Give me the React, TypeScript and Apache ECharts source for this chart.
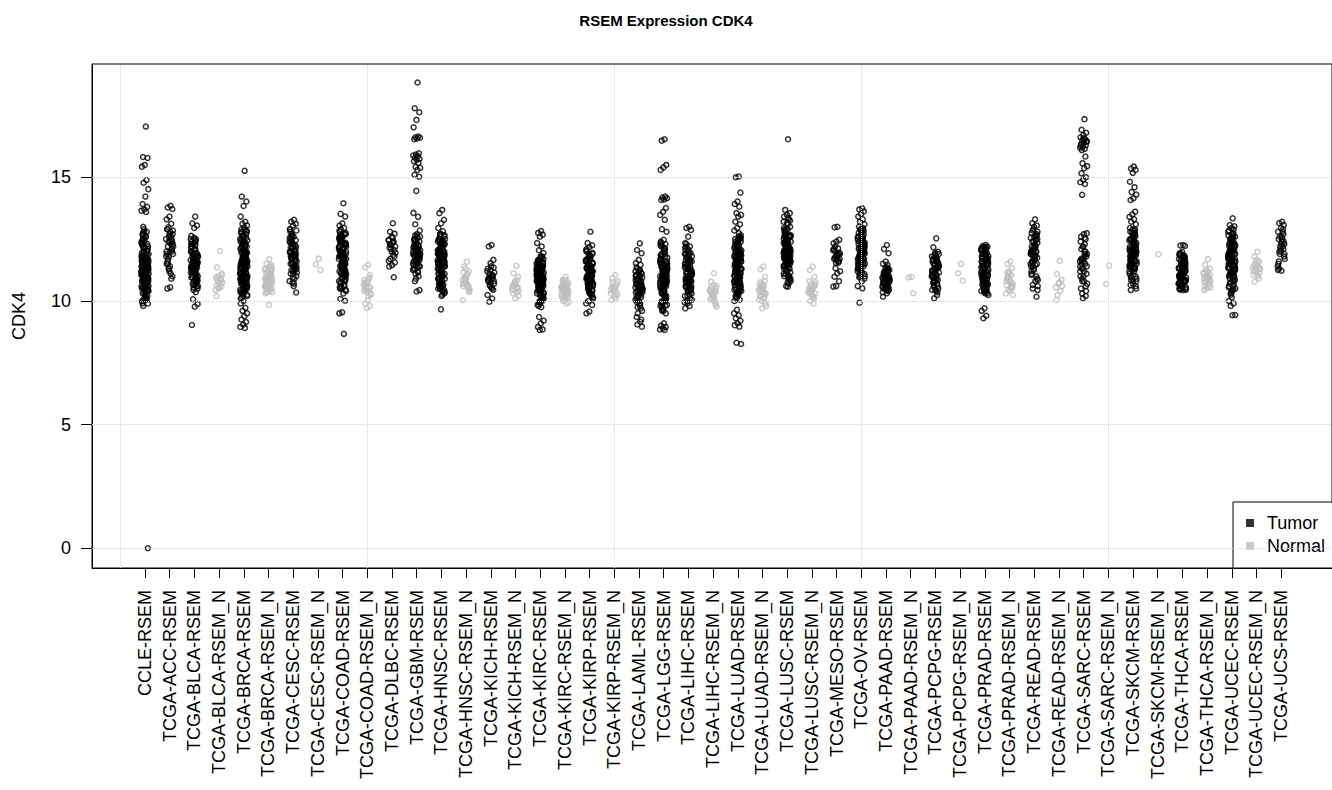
import React, { useEffect, useRef } from "react";
import * as echarts from "echarts";

const categories = [
  "CCLE-RSEM", "TCGA-ACC-RSEM", "TCGA-BLCA-RSEM", "TCGA-BLCA-RSEM_N", "TCGA-BRCA-RSEM", "TCGA-BRCA-RSEM_N",
  "TCGA-CESC-RSEM", "TCGA-CESC-RSEM_N", "TCGA-COAD-RSEM", "TCGA-COAD-RSEM_N", "TCGA-DLBC-RSEM", "TCGA-GBM-RSEM",
  "TCGA-HNSC-RSEM", "TCGA-HNSC-RSEM_N", "TCGA-KICH-RSEM", "TCGA-KICH-RSEM_N", "TCGA-KIRC-RSEM", "TCGA-KIRC-RSEM_N",
  "TCGA-KIRP-RSEM", "TCGA-KIRP-RSEM_N", "TCGA-LAML-RSEM", "TCGA-LGG-RSEM", "TCGA-LIHC-RSEM", "TCGA-LIHC-RSEM_N",
  "TCGA-LUAD-RSEM", "TCGA-LUAD-RSEM_N", "TCGA-LUSC-RSEM", "TCGA-LUSC-RSEM_N", "TCGA-MESO-RSEM", "TCGA-OV-RSEM",
  "TCGA-PAAD-RSEM", "TCGA-PAAD-RSEM_N", "TCGA-PCPG-RSEM", "TCGA-PCPG-RSEM_N", "TCGA-PRAD-RSEM", "TCGA-PRAD-RSEM_N",
  "TCGA-READ-RSEM", "TCGA-READ-RSEM_N", "TCGA-SARC-RSEM", "TCGA-SARC-RSEM_N", "TCGA-SKCM-RSEM", "TCGA-SKCM-RSEM_N",
  "TCGA-THCA-RSEM", "TCGA-THCA-RSEM_N", "TCGA-UCEC-RSEM", "TCGA-UCEC-RSEM_N", "TCGA-UCS-RSEM",
];

const ccle = [17.05, 15.82, 15.78, 15.5, 15.43, 14.89, 14.78, 14.52, 14.22, 13.92, 13.81, 13.7, 13.65, 13.6, 13.0, 0.0,
  11.2, 10.8, 11.6, 12.1, 10.4, 11.9, 11.0, 11.4, 10.6, 12.4, 11.3, 10.9, 11.7, 10.2, 11.5, 12.0, 10.7, 11.1, 12.6, 11.8,
  10.5, 11.3, 10.0, 11.6, 12.2, 10.9, 11.4, 10.3, 11.0, 12.8, 11.2, 10.6, 11.7, 9.9, 11.5, 12.3, 10.8, 11.1, 11.9, 10.4,
  12.5, 11.3, 10.7, 11.6, 10.1, 12.0, 11.4, 10.9, 12.7, 11.0, 10.5, 11.8, 11.2, 9.8, 12.1, 11.5, 10.8, 11.3, 12.9, 10.6,
  11.7, 11.0, 10.2, 12.4, 11.4, 10.9, 11.1, 12.2, 10.3, 11.6, 11.9, 10.7, 11.2, 12.6, 10.0, 11.5, 11.8, 10.5, 11.3, 12.0,
  10.8, 11.4, 9.9, 12.3, 11.1, 10.6, 11.7, 12.5, 10.4, 11.0, 11.3, 12.8, 10.1, 11.6, 11.2, 10.9];
const ccleMore = [11.35, 10.85, 11.65, 11.05, 12.15, 10.45, 11.55, 11.25, 10.95, 11.75, 12.35, 10.65, 11.15, 11.45, 10.25,
  11.85, 12.05, 10.75, 11.3, 11.6, 10.55, 11.0, 12.55, 11.4, 10.15, 11.7, 11.2, 10.9, 12.25, 11.5, 10.35, 11.1, 11.8,
  12.65, 10.7, 11.35, 11.95, 10.05, 11.45, 11.25, 10.85, 12.45, 11.65, 10.6, 11.05, 11.55, 12.75, 10.95, 11.15, 11.75];
const acc = [13.85, 13.78, 13.72, 13.41, 13.3, 13.12, 12.98, 12.85, 12.4, 12.9, 12.1, 12.6, 11.8, 12.3, 11.5, 12.7, 12.0,
  11.9, 12.5, 11.3, 12.2, 12.8, 11.6, 12.4, 11.2, 12.0, 12.6, 11.7, 12.3, 11.4, 12.9, 12.1, 11.8, 12.5, 11.1, 12.2, 11.0,
  12.7, 11.5, 10.9, 12.4, 11.9, 10.55, 10.5, 12.0, 11.3];
const blca = [13.41, 13.14, 13.05, 12.95, 12.63, 12.5, 11.4, 11.8, 11.1, 12.2, 10.9, 11.6, 12.0, 11.3, 10.7, 11.9, 11.5,
  12.4, 11.0, 11.7, 10.6, 12.1, 11.2, 11.5, 10.8, 12.3, 11.4, 11.9, 10.5, 11.6, 12.0, 11.1, 11.3, 12.5, 10.9, 11.8, 11.5,
  11.2, 12.2, 10.7, 11.7, 11.0, 12.1, 11.4, 10.6, 11.9, 11.3, 12.4, 11.6, 10.8, 11.1, 12.0, 11.5, 10.45, 11.8, 11.2, 12.3,
  10.9, 11.6, 11.4, 10.35, 10.07, 9.88, 9.77, 9.03];
const blcaMore = [11.45, 11.85, 11.15, 12.25, 10.95, 11.65, 12.05, 11.35, 10.75, 11.95, 11.55, 12.45, 11.05, 11.75, 10.65,
  12.15, 11.25, 11.55, 10.85, 12.35, 11.45, 11.95, 10.55, 11.65, 12.05, 11.15, 11.35, 12.55, 10.95, 11.85];
const blcaN = [12.02, 11.36, 11.12, 11.0, 10.95, 10.88, 10.8, 10.75, 10.7, 10.62, 10.58, 10.5, 10.45, 10.72, 10.9, 11.05,
  10.55, 10.2, 10.85];
const brca = [15.26, 14.22, 14.02, 13.84, 13.41, 13.2, 13.12, 13.05, 12.98, 12.9, 11.3, 11.8, 10.9, 12.2, 11.5, 10.6, 12.6,
  11.1, 11.9, 10.4, 11.6, 12.4, 11.0, 10.8, 11.7, 12.1, 11.3, 10.3, 12.8, 11.4, 10.7, 11.9, 11.2, 12.5, 10.5, 11.6, 11.0,
  12.0, 10.9, 11.5, 12.3, 10.2, 11.8, 11.1, 12.7, 10.6, 11.4, 11.7, 10.8, 12.2, 11.3, 10.4, 11.9, 12.6, 11.0, 11.5, 10.7,
  12.0, 11.2, 10.1, 11.6, 12.4, 10.9, 11.8, 11.4, 10.5, 12.1, 11.1, 12.9, 10.3, 11.7, 11.3, 10.8, 12.3, 11.5, 10.6, 11.0,
  12.5, 11.9, 10.2, 11.2, 11.6, 12.0, 10.7, 11.4, 12.8, 10.9, 11.8, 11.1, 10.4, 12.2, 11.5, 10.0, 9.9, 9.72, 9.6, 9.5,
  9.38, 9.25, 9.15, 9.05, 8.95, 8.91];
const brcaMore = [11.35, 10.95, 11.85, 12.15, 10.55, 11.65, 12.45, 11.05, 10.85, 11.45, 12.05, 10.35, 11.25, 12.65, 11.55,
  10.75, 11.95, 11.15, 12.35, 10.45, 11.75, 11.35, 12.85, 10.65, 11.5, 12.25, 11.0, 10.25, 11.9, 11.6, 12.55, 10.8, 11.3,
  12.0, 11.7, 10.5, 11.2, 12.75, 11.8, 10.9, 11.4, 12.2, 10.15, 11.1, 11.65, 12.4, 10.7, 11.55, 11.95, 11.25];
const brcaN = [11.69, 11.5, 11.2, 10.9, 10.6, 11.0, 10.8, 11.3, 10.5, 10.7, 11.1, 10.4, 10.9, 11.4, 10.6, 10.8, 11.0, 10.3,
  10.7, 11.2, 10.9, 10.5, 11.1, 10.8, 10.6, 11.3, 10.4, 10.7, 11.0, 10.9, 10.5, 11.2, 10.8, 10.6, 11.4, 10.35, 10.7, 11.0,
  10.9, 10.55, 11.15, 10.75, 9.84];
const brcaNMore = [10.85, 11.05, 10.65, 11.25, 10.45, 10.95, 11.35, 10.75, 10.55, 11.15, 10.85, 10.35, 11.0, 10.7, 11.45,
  10.9, 10.6, 11.1, 10.8, 10.5];
const cesc = [13.28, 13.2, 13.12, 13.05, 12.9, 11.8, 12.3, 11.4, 12.6, 11.1, 12.0, 11.7, 12.4, 10.9, 11.9, 12.2, 11.5,
  12.8, 11.3, 12.1, 11.6, 10.7, 12.5, 11.8, 11.2, 12.0, 11.9, 12.7, 11.0, 12.3, 11.5, 11.7, 12.2, 10.8, 11.4, 12.6, 11.9,
  11.1, 12.0, 11.6, 12.4, 11.3, 10.6, 11.8, 12.1, 11.5, 12.9, 11.2, 11.7, 10.34];
const cescMore = [11.85, 12.35, 11.45, 12.65, 11.15, 12.05, 11.75, 12.45, 10.95, 11.95, 12.25, 11.55, 12.85, 11.35, 12.15,
  11.65, 10.75, 12.55, 11.85, 11.25];
const cescN = [11.71, 11.48, 11.25];
const coad = [13.95, 13.52, 13.41, 13.14, 13.05, 12.95, 11.8, 12.3, 11.2, 12.6, 11.5, 10.9, 12.1, 11.7, 12.4, 11.0, 11.9,
  12.8, 10.6, 11.4, 12.2, 11.6, 12.0, 10.8, 11.3, 12.5, 11.8, 11.1, 12.7, 11.9, 10.5, 12.3, 11.5, 11.7, 12.1, 10.7, 11.2,
  12.6, 11.8, 11.4, 12.0, 10.4, 11.6, 12.4, 11.0, 11.9, 12.2, 11.3, 12.9, 10.9, 11.7, 12.0, 11.5, 12.5, 11.1, 10.3, 11.8,
  12.3, 11.6, 11.2, 12.7, 10.6, 11.9, 12.1, 11.4, 11.7, 12.4, 10.8, 11.0, 12.6, 11.5, 11.8, 12.2, 11.3, 10.5, 12.0, 11.9,
  10.08, 10.01, 9.54, 9.5, 8.67];
const coadMore = [11.85, 12.35, 11.25, 12.65, 11.55, 10.95, 12.15, 11.75, 12.45, 11.05, 11.95, 12.85, 10.65, 11.45, 12.25,
  11.65, 12.05, 10.85, 11.35, 12.55, 11.85, 11.15, 12.75, 11.95, 10.55, 12.3, 11.5, 11.7, 12.1, 10.75, 11.25, 12.6, 11.8,
  11.4, 12.0, 10.45, 11.6, 12.4, 11.05, 11.9];
const coadN = [11.46, 11.36, 11.05, 10.7, 10.4, 10.9, 10.6, 10.3, 10.8, 10.5, 10.95, 10.45, 10.65, 10.2, 10.75, 10.55,
  10.35, 10.85, 10.5, 10.6, 10.25, 10.04, 9.9, 9.8, 9.72, 10.7, 10.4];
const dlbc = [13.14, 12.8, 12.72, 12.6, 12.47, 12.4, 12.3, 12.2, 12.35, 12.15, 12.06, 12.25, 12.45, 11.86, 11.7, 11.55,
  11.45, 11.39, 10.96, 12.1, 11.95, 12.55, 12.3, 11.8, 12.0, 11.62, 12.38];
const gbm = [18.83, 17.79, 17.63, 17.32, 17.02, 16.65, 16.62, 16.6, 16.57, 16.54, 15.97, 15.92, 15.88, 15.85, 15.8, 15.75,
  15.7, 15.65, 15.58, 15.42, 15.38, 15.3, 15.1, 15.02, 14.45, 13.56, 13.4, 13.1, 12.85,
  12.7, 12.5, 11.8, 12.2, 11.5, 12.0, 11.3, 12.4, 11.9, 11.6, 12.1, 11.1, 12.6, 11.7, 12.3, 11.4, 11.9, 12.0, 11.2, 12.5,
  11.8, 11.6, 12.2, 11.0, 12.4, 11.9, 11.5, 12.1, 11.7, 12.3, 11.3, 12.0, 11.8, 11.4, 12.6, 11.6, 12.2, 10.9, 11.9, 12.1,
  10.8, 10.44, 10.38];
const gbmMore = [11.85, 12.25, 11.55, 12.05, 11.35, 12.45, 11.95, 11.65, 12.15, 11.15, 12.65, 11.75, 12.35, 11.45, 11.95,
  12.05, 11.25, 12.55, 11.85, 11.65];
const hnsc = [13.68, 13.55, 13.28, 13.14, 12.95, 12.82, 12.7, 11.5, 12.1, 10.9, 11.8, 11.3, 12.4, 10.6, 11.6, 12.0, 11.1,
  11.9, 10.4, 12.3, 11.4, 11.7, 10.8, 12.6, 11.2, 11.5, 12.2, 10.5, 11.9, 11.0, 12.5, 11.6, 10.7, 11.3, 12.0, 11.8, 10.3,
  12.4, 11.1, 11.5, 12.7, 10.9, 11.7, 12.1, 11.4, 10.6, 11.9, 12.3, 11.2, 11.6, 10.2, 12.0, 11.0, 11.8, 12.5, 10.8, 11.3,
  11.7, 12.2, 10.5, 11.5, 12.6, 11.1, 11.9, 10.7, 12.4, 11.4, 11.6, 10.4, 12.1, 11.8, 11.2, 10.9, 12.0, 11.5, 12.3, 11.0,
  10.6, 11.7, 9.66];
const hnscMore = [11.55, 12.15, 10.95, 11.85, 11.35, 12.45, 10.65, 11.65, 12.05, 11.15, 11.95, 10.45, 12.35, 11.45, 11.75,
  10.85, 12.65, 11.25, 11.55, 12.25, 10.55, 11.9, 11.05, 12.5, 11.6, 10.75, 11.3, 12.0, 11.8, 10.35, 12.4, 11.1, 11.5,
  12.7, 10.9, 11.7, 12.1, 11.4, 10.6, 11.9, 12.3, 11.2, 11.65, 10.25, 12.0];
const hnscN = [11.59, 11.39, 11.2, 10.9, 10.6, 11.1, 10.8, 10.4, 11.0, 10.7, 10.5, 11.3, 10.85, 10.65, 10.95, 10.35,
  10.75, 11.15, 10.55, 10.8, 10.45, 11.05, 10.7, 10.6, 10.9, 10.04];
const kich = [12.26, 12.2, 11.66, 11.53, 11.3, 10.9, 11.1, 10.7, 11.4, 10.8, 11.0, 10.6, 11.2, 10.5, 10.95, 11.35, 10.75,
  10.85, 11.05, 10.65, 11.15, 10.55, 10.9, 10.45, 11.25, 10.24, 10.1, 9.97, 10.8, 11.0];
const kichN = [11.42, 11.12, 10.98, 10.8, 10.6, 10.5, 10.7, 10.4, 10.65, 10.3, 10.55, 10.75, 10.45, 10.35, 10.6, 10.2,
  10.11, 10.5, 10.85];
const kirc = [12.83, 12.75, 12.68, 12.6, 12.34, 12.2, 12.05, 11.94, 11.8, 10.8, 11.3, 10.4, 11.0, 10.6, 11.5, 10.2, 10.9,
  11.2, 10.7, 11.6, 10.1, 10.5, 11.1, 10.8, 11.4, 10.3, 11.7, 10.9, 10.6, 11.0, 11.3, 10.0, 10.7, 11.5, 10.4, 11.2, 10.8,
  9.9, 11.1, 10.5, 11.6, 10.9, 10.2, 11.0, 11.4, 10.6, 10.8, 11.3, 9.8, 10.7, 11.1, 10.4, 11.8, 10.9, 10.3, 11.2, 10.6,
  11.5, 10.0, 10.8, 11.0, 10.5, 11.7, 10.7, 11.3, 10.1, 10.9, 11.1, 9.75, 10.6, 11.4, 10.4, 10.8, 11.2, 9.35, 9.2, 9.1,
  8.95, 8.85, 8.83];
const kircMore = [10.85, 11.35, 10.45, 11.05, 10.65, 11.55, 10.25, 10.95, 11.25, 10.75, 11.65, 10.15, 10.55, 11.15, 10.85,
  11.45, 10.35, 11.75, 10.95, 10.65, 11.05, 11.35, 10.05, 10.75, 11.55, 10.45, 11.25, 10.85, 9.95, 11.15, 10.55, 11.65,
  10.95, 10.25, 11.05, 11.45, 10.65, 10.85, 11.35, 9.85];
const kircN = [10.98, 10.8, 10.5, 10.2, 10.6, 10.3, 10.7, 10.4, 10.1, 10.55, 10.35, 10.65, 10.25, 10.45, 10.0, 10.75,
  10.5, 10.15, 10.4, 10.6, 9.95, 10.3, 10.85, 10.45, 10.2, 10.55, 9.9, 10.35, 10.7, 10.5];
const kircNMore = [10.45, 10.65, 10.25, 10.55, 10.35, 10.75, 10.15, 10.5, 10.4, 10.6, 10.05, 10.3, 10.85, 10.45, 10.2];
const kirp = [12.8, 12.34, 12.25, 12.18, 12.1, 11.0, 11.5, 10.6, 11.8, 10.9, 11.2, 10.4, 11.6, 11.1, 10.7, 11.9, 10.3,
  11.3, 10.8, 11.4, 10.1, 11.7, 10.9, 11.0, 10.5, 12.0, 11.2, 10.6, 11.5, 10.8, 11.3, 10.2, 11.1, 11.6, 10.7, 11.0, 10.4,
  11.8, 10.9, 11.4, 10.0, 11.2, 10.6, 11.7, 10.8, 11.3, 9.9, 11.1, 10.5, 11.5, 10.9, 11.0, 10.3, 11.9, 10.7, 11.2, 10.85,
  9.84, 9.57, 9.5];
const kirpMore = [11.05, 11.55, 10.65, 11.85, 10.95, 11.25, 10.45, 11.65, 11.15, 10.75, 11.95, 10.35, 11.35, 10.85, 11.45,
  10.15, 11.75, 10.95, 11.05, 10.55, 12.05, 11.25, 10.65, 11.55, 10.85, 11.35, 10.25, 11.15, 11.65, 10.75, 11.0, 10.45,
  11.85, 10.9, 11.4];
const kirpN = [11.05, 10.92, 10.7, 10.5, 10.3, 10.6, 10.4, 10.8, 10.2, 10.55, 10.35, 10.65, 10.45, 10.1, 10.75, 10.25,
  10.5, 10.04, 10.6, 10.4];
const laml = [12.33, 12.06, 11.93, 11.66, 11.53, 11.46, 11.3, 10.5, 11.0, 10.2, 10.8, 10.4, 11.2, 9.9, 10.6, 11.1, 10.3,
  10.7, 9.7, 10.9, 10.5, 11.25, 10.1, 10.6, 10.0, 11.0, 10.4, 10.8, 9.6, 10.3, 10.7, 11.15, 10.2, 10.55, 9.8, 10.9, 10.45,
  10.0, 11.05, 10.65, 9.5, 10.35, 10.75, 9.35, 9.25, 10.15, 10.85, 9.16, 9.05, 8.96];
const lamlMore = [10.55, 11.05, 10.25, 10.85, 10.45, 11.25, 9.95, 10.65, 11.15, 10.35, 10.75, 9.75, 10.95, 10.55, 11.35,
  10.15, 10.65, 10.05, 11.0, 10.4];
const lgg = [16.54, 16.48, 15.5, 15.4, 15.3, 14.22, 14.18, 14.15, 14.1, 14.08, 13.76, 13.6, 13.48, 13.28, 12.9, 12.8,
  12.47, 12.4, 12.3, 10.9, 11.5, 10.2, 11.8, 10.6, 11.2, 9.8, 12.1, 10.8, 11.0, 10.4, 11.6, 10.0, 11.3, 10.7, 12.0, 10.5,
  11.1, 9.6, 11.7, 10.9, 10.3, 11.4, 10.6, 12.2, 10.1, 11.0, 10.8, 11.9, 9.9, 11.2, 10.4, 11.5, 10.7, 9.7, 11.3, 10.9,
  12.3, 10.2, 11.1, 10.5, 11.8, 10.0, 11.6, 10.8, 11.4, 9.5, 10.6, 11.0, 12.1, 10.3, 11.2, 10.7, 11.7, 9.8, 10.9, 11.3,
  10.4, 11.9, 10.1, 11.5, 10.6, 11.0, 9.6, 10.8, 9.1, 9.0, 8.95, 8.9, 8.85, 8.83];
const lggMore = [10.95, 11.55, 10.25, 11.85, 10.65, 11.25, 9.85, 12.15, 10.85, 11.05, 10.45, 11.65, 10.05, 11.35, 10.75,
  12.05, 10.55, 11.15, 9.65, 11.75, 10.95, 10.35, 11.45, 10.65, 12.25, 10.15, 11.05, 10.85, 11.95, 9.95, 11.25, 10.45,
  11.55, 10.75, 9.75, 11.35, 10.95, 12.35, 10.25, 11.15];
const lihc = [13.0, 12.95, 12.87, 12.6, 12.34, 12.2, 11.0, 11.6, 10.5, 11.9, 10.8, 11.3, 10.2, 11.7, 11.1, 10.6, 12.0,
  10.9, 11.4, 10.0, 11.8, 10.7, 11.2, 10.4, 12.1, 11.5, 10.9, 11.0, 10.3, 11.6, 10.8, 11.3, 9.9, 11.9, 10.6, 11.1, 10.5,
  11.7, 11.4, 10.1, 10.9, 11.2, 10.7, 12.2, 11.0, 10.4, 11.5, 9.8, 11.8, 10.8, 11.3, 10.6, 11.6, 10.2, 11.1, 10.9, 12.3,
  10.5, 11.4, 9.7, 11.0, 10.7];
const lihcMore = [11.05, 11.65, 10.55, 11.95, 10.85, 11.35, 10.25, 11.75, 11.15, 10.65, 12.05, 10.95, 11.45, 10.05, 11.85,
  10.75, 11.25, 10.45, 12.15, 11.55, 10.95, 11.05, 10.35, 11.65, 10.85, 11.35, 9.95, 11.9, 10.6, 11.1];
const lihcN = [11.12, 10.78, 10.5, 10.2, 10.4, 10.0, 10.3, 10.6, 10.1, 10.35, 9.9, 10.25, 10.45, 10.15, 10.55, 9.85, 10.3,
  10.05, 10.4, 10.2, 9.77, 10.65, 10.1, 10.35];
const luad = [15.03, 15.0, 14.38, 14.02, 13.92, 13.81, 13.55, 13.48, 13.41, 13.2, 13.1, 12.95, 12.85, 12.74, 11.3, 11.9,
  10.7, 12.2, 11.0, 11.6, 10.4, 12.5, 11.2, 11.8, 10.9, 11.4, 12.0, 10.2, 11.7, 11.1, 12.3, 10.6, 11.5, 10.8, 12.6, 11.3,
  10.5, 11.9, 11.0, 12.1, 10.3, 11.6, 11.2, 12.4, 10.7, 11.4, 10.0, 11.8, 11.1, 12.0, 10.9, 11.5, 10.4, 12.2, 11.3, 10.6,
  11.7, 12.5, 10.8, 11.0, 11.9, 10.1, 11.6, 12.3, 11.2, 10.5, 11.4, 11.8, 10.9, 12.1, 11.1, 10.3, 11.5, 12.6, 10.7, 11.3,
  11.9, 10.2, 11.7, 12.0, 10.8, 11.0, 11.6, 12.4, 10.4, 11.2, 10.05, 9.64, 9.5, 9.42, 9.3, 9.2, 9.1, 9.02, 8.96, 8.31, 8.26];
const luadMore = [11.35, 11.95, 10.75, 12.25, 11.05, 11.65, 10.45, 12.55, 11.25, 11.85, 10.95, 11.45, 12.05, 10.25, 11.75,
  11.15, 12.35, 10.65, 11.55, 10.85, 12.65, 11.35, 10.55, 11.95, 11.05, 12.15, 10.35, 11.65, 11.25, 12.45, 10.75, 11.45,
  10.15, 11.85, 11.15, 12.05, 10.95, 11.55, 10.45, 12.25, 11.3, 10.6, 11.7, 12.5, 10.8];
const luadN = [11.39, 11.28, 10.98, 10.7, 10.4, 10.1, 10.5, 10.3, 10.6, 10.2, 10.8, 10.0, 10.45, 10.35, 10.55, 9.9, 10.25,
  10.65, 10.15, 10.4, 9.8, 10.5, 10.75, 10.3, 9.7, 10.05, 10.6, 10.2];
const lusc = [16.54, 13.68, 13.55, 13.48, 13.41, 13.3, 12.0, 12.6, 11.4, 12.9, 11.7, 12.3, 11.1, 12.1, 12.8, 11.5, 12.4,
  11.9, 10.9, 12.2, 11.6, 13.1, 12.0, 11.3, 12.5, 11.8, 10.7, 12.7, 12.1, 11.5, 12.3, 11.0, 11.9, 13.2, 12.4, 11.7, 12.0,
  11.2, 12.6, 11.8, 12.2, 10.8, 12.9, 11.4, 12.1, 11.6, 12.5, 11.9, 11.1, 13.0, 12.3, 11.7, 12.0, 10.6, 12.4, 11.5, 12.7,
  11.8, 12.2, 11.3, 12.6, 12.0, 10.9, 11.9, 12.8, 11.6, 12.1, 11.4, 13.35, 12.3, 11.7, 12.5, 11.0, 12.2, 11.8, 12.0, 10.58];
const luscMore = [12.05, 12.65, 11.45, 12.95, 11.75, 12.35, 11.15, 12.15, 12.85, 11.55, 12.45, 11.95, 10.95, 12.25, 11.65,
  13.15, 12.05, 11.35, 12.55, 11.85, 10.75, 12.75, 12.15, 11.55, 12.35, 11.05, 11.95, 13.25, 12.45, 11.75, 12.0, 11.25,
  12.65, 11.85, 12.25, 10.85, 12.9, 11.45, 12.1, 11.65];
const luscN = [11.39, 11.25, 10.98, 10.7, 10.4, 10.2, 10.6, 10.3, 10.5, 10.8, 10.1, 10.45, 10.35, 10.55, 10.0, 10.65,
  10.25, 10.5, 9.9, 10.4, 10.75, 10.15, 10.3, 10.6];
const meso = [13.0, 12.98, 12.47, 12.4, 12.33, 12.13, 12.0, 11.9, 11.8, 11.7, 11.6, 11.53, 12.05, 11.85, 11.75, 11.95,
  11.65, 12.1, 11.55, 11.32, 11.2, 11.12, 10.98, 10.8, 10.6, 10.58, 11.9, 12.2, 11.7, 11.85, 12.08, 11.62, 11.78];
const ov = [13.75, 13.7, 13.62, 13.52, 13.41, 13.3, 13.2, 13.1, 12.0, 12.6, 11.4, 12.9, 11.7, 12.3, 11.1, 12.1, 12.8, 11.5,
  12.4, 11.9, 11.0, 12.2, 11.6, 12.7, 12.0, 11.3, 12.5, 11.8, 10.9, 12.3, 12.1, 11.5, 12.9, 11.2, 11.9, 12.4, 11.7, 12.0,
  11.4, 12.6, 11.8, 12.2, 10.8, 13.0, 11.6, 12.1, 11.3, 12.5, 11.9, 11.1, 12.7, 12.3, 11.7, 12.0, 11.5, 12.4, 11.8, 12.2,
  11.2, 12.6, 12.0, 11.0, 11.9, 12.8, 11.6, 12.1, 11.4, 10.6, 10.51, 9.93];
const ovMore = [12.05, 12.65, 11.45, 12.95, 11.75, 12.35, 11.15, 12.15, 12.85, 11.55, 12.45, 11.95, 11.05, 12.25, 11.65,
  12.75, 12.05, 11.35, 12.55, 11.85, 10.95, 12.35, 12.15, 11.55, 12.9, 11.25, 11.95, 12.45, 11.75, 12.0];
const paad = [12.26, 12.1, 11.93, 11.59, 11.5, 11.46, 11.2, 10.9, 11.0, 10.7, 11.3, 10.8, 10.6, 11.1, 10.5, 10.95, 11.25,
  10.75, 10.4, 11.05, 10.85, 10.65, 11.15, 10.55, 10.9, 10.35, 11.35, 10.7, 11.0, 10.45, 10.8, 11.2, 10.6, 10.95, 10.31,
  11.1, 10.75, 10.5, 10.17, 10.85];
const paadMore = [10.95, 11.25, 10.65, 11.05, 10.85, 11.35, 10.55, 11.15, 10.75, 10.45, 11.0, 10.9, 10.6, 11.2, 10.8];
const paadN = [10.98, 10.95, 10.31];
const pcpg = [12.53, 12.17, 11.99, 11.9, 11.2, 11.6, 10.8, 11.4, 11.0, 11.7, 10.6, 11.3, 11.8, 10.9, 11.5, 10.5, 11.1,
  11.6, 10.7, 11.3, 11.9, 10.4, 11.0, 11.5, 10.8, 11.2, 11.7, 10.6, 11.4, 10.9, 11.1, 10.35, 11.8, 11.0, 11.35, 10.75,
  11.55, 10.45, 11.25, 10.24, 10.11, 11.45];
const pcpgMore = [11.25, 11.65, 10.85, 11.45, 11.05, 11.75, 10.65, 11.35, 11.85, 10.95, 11.55, 10.55, 11.15, 11.65, 10.75,
  11.35, 11.95, 10.45, 11.05, 11.5];
const pcpgN = [11.5, 11.12, 10.82];
const prad = [12.26, 12.22, 12.2, 12.18, 12.15, 12.13, 11.0, 11.6, 10.6, 11.9, 10.9, 11.3, 10.4, 11.7, 11.1, 10.7, 12.0,
  11.4, 10.5, 11.2, 11.8, 10.8, 11.5, 10.3, 11.0, 11.6, 11.9, 10.6, 11.3, 10.9, 11.7, 10.4, 11.1, 12.05, 10.7, 11.4, 11.0,
  10.5, 11.8, 11.2, 10.8, 11.5, 10.3, 11.6, 10.9, 11.3, 12.1, 10.6, 11.0, 11.7, 10.4, 11.2, 10.7, 11.45, 10.24, 11.85,
  10.95, 11.05, 9.7, 9.6, 9.4, 9.3];
const pradMore = [11.05, 11.65, 10.65, 11.95, 10.95, 11.35, 10.45, 11.75, 11.15, 10.75, 12.05, 11.45, 10.55, 11.25, 11.85,
  10.85, 11.55, 10.35, 11.05, 11.65, 11.95, 10.65, 11.35, 10.95, 11.75, 10.45, 11.15, 12.1, 10.75, 11.45];
const pradN = [11.59, 11.5, 11.32, 11.1, 10.8, 10.5, 11.0, 10.7, 10.4, 10.9, 10.6, 11.2, 10.3, 10.75, 10.95, 10.55, 10.85,
  10.65, 11.05, 10.45, 10.24, 10.8, 11.15, 10.6];
const read = [13.3, 13.14, 13.05, 13.0, 12.0, 12.5, 11.4, 12.8, 11.7, 12.2, 11.0, 12.4, 11.9, 10.8, 12.1, 11.5, 12.6,
  11.2, 12.0, 11.8, 10.6, 12.3, 11.6, 12.7, 11.3, 11.9, 12.2, 10.5, 12.5, 11.7, 11.1, 12.0, 12.9, 11.5, 11.8, 12.4, 10.9,
  12.1, 11.4, 12.6, 11.6, 10.44, 12.2, 11.9, 10.17];
const readMore = [12.05, 12.55, 11.45, 12.85, 11.75, 12.25, 11.05, 12.45, 11.95, 10.85, 12.15, 11.55, 12.65, 11.25, 12.0,
  11.85, 10.65, 12.35, 11.65, 12.75];
const readN = [11.62, 11.09, 10.85, 10.7, 10.55, 10.4, 10.24, 10.6, 10.75, 10.04];
const sarc = [17.35, 16.92, 16.8, 16.71, 16.62, 16.55, 16.5, 16.45, 16.4, 16.35, 16.3, 16.25, 16.2, 16.15, 16.1, 16.45,
  16.58, 16.28, 15.84, 15.57, 15.45, 15.37, 15.16, 15.0, 14.9, 14.8, 14.73, 14.29,
  12.74, 12.7, 12.6, 12.5, 12.2, 11.6, 12.0, 11.3, 11.8, 11.0, 12.4, 11.5, 10.8, 11.9, 11.2, 12.1, 10.6, 11.7, 11.4, 12.3,
  10.9, 11.1, 11.6, 10.5, 12.0, 11.3, 10.7, 11.8, 11.5, 10.4, 12.2, 11.0, 11.9, 10.3, 11.4, 10.8, 11.7, 10.2, 10.11, 11.2,
  12.55, 11.65];
const sarcN = [11.43, 10.69];
const skcm = [15.43, 15.35, 15.3, 15.18, 14.82, 14.6, 14.4, 14.3, 14.15, 14.08, 13.61, 13.5, 13.4, 13.3, 13.2, 13.1, 11.9,
  12.5, 11.3, 12.8, 11.6, 12.2, 11.0, 12.0, 12.7, 11.4, 12.4, 11.8, 10.8, 12.1, 11.5, 12.9, 11.9, 11.2, 12.3, 11.7, 10.6,
  12.6, 12.0, 11.4, 12.2, 10.9, 11.8, 12.5, 11.6, 11.9, 11.1, 12.4, 11.7, 12.1, 10.7, 12.8, 11.3, 12.0, 11.5, 12.3, 11.8,
  11.0, 12.9, 12.2, 11.6, 11.9, 10.5, 12.4, 11.4, 12.6, 11.7, 12.1, 11.2, 12.5, 11.9, 10.8, 11.8, 12.7, 11.5, 12.0, 11.3,
  10.44];
const skcmMore = [11.95, 12.55, 11.35, 12.85, 11.65, 12.25, 11.05, 12.05, 12.75, 11.45, 12.45, 11.85, 10.85, 12.15, 11.55,
  12.95, 11.95, 11.25, 12.35, 11.75, 10.65, 12.65, 12.05, 11.45, 12.25, 10.95, 11.85, 12.55, 11.65, 11.9];
const skcmN = [11.89];
const thca = [12.26, 12.24, 12.22, 11.99, 11.9, 11.1, 11.6, 10.8, 11.4, 11.0, 11.7, 10.6, 11.3, 11.8, 10.9, 11.5, 11.2,
  10.7, 11.6, 11.1, 10.5, 11.4, 11.9, 10.8, 11.3, 11.0, 11.7, 10.6, 11.2, 11.5, 10.9, 11.8, 11.1, 10.7, 11.4, 10.5, 11.6,
  11.0, 11.3, 10.8, 11.5, 10.45, 10.44, 10.46, 11.2, 10.9, 11.7, 11.1, 10.6, 11.4, 11.0, 11.85, 10.75, 11.25, 10.95, 11.55,
  10.65, 11.35, 11.05, 10.5];
const thcaMore = [11.15, 11.65, 10.85, 11.45, 11.05, 11.75, 10.65, 11.35, 11.85, 10.95, 11.55, 11.25, 10.75, 11.65, 11.15,
  10.55, 11.45, 11.95, 10.85, 11.35, 11.05, 11.75, 10.65, 11.25, 11.55, 10.95, 11.8, 11.1, 10.7, 11.4];
const thcaN = [11.69, 11.46, 11.3, 11.1, 10.9, 10.7, 11.0, 10.8, 11.2, 10.6, 10.95, 10.5, 11.15, 10.85, 10.75, 11.05,
  10.65, 10.44, 10.9, 11.25, 10.55, 11.0, 10.8, 10.7, 10.95, 11.1, 10.6];
const ucec = [13.34, 13.07, 13.02, 12.95, 11.7, 12.3, 11.1, 12.6, 11.4, 12.0, 10.8, 12.2, 11.8, 10.6, 11.9, 11.3, 12.4,
  11.0, 12.1, 11.6, 10.5, 12.7, 11.5, 11.2, 12.0, 11.9, 10.9, 12.5, 11.7, 10.4, 12.3, 11.4, 11.8, 12.8, 11.1, 10.7, 12.2,
  11.6, 11.3, 12.0, 10.3, 11.9, 12.6, 11.5, 11.0, 12.4, 11.7, 10.8, 12.1, 11.4, 11.8, 10.6, 12.9, 11.2, 11.6, 12.3, 10.9,
  11.9, 12.0, 11.5, 10.5, 12.5, 11.3, 11.7, 12.2, 11.0, 10.25, 11.8, 12.7, 11.1, 11.6, 10.15, 10.0, 9.9, 9.8, 9.43, 9.42];
const ucecMore = [11.75, 12.35, 11.15, 12.65, 11.45, 12.05, 10.85, 12.25, 11.85, 10.65, 11.95, 11.35, 12.45, 11.05, 12.15,
  11.65, 10.55, 12.75, 11.55, 11.25, 12.05, 11.95, 10.95, 12.55, 11.75, 10.45, 12.35, 11.45, 11.85, 12.85, 11.15, 10.75,
  12.25, 11.65, 11.35, 12.0, 10.35, 11.9, 12.6, 11.5];
const ucecN = [11.99, 11.79, 11.6, 11.4, 11.2, 11.0, 11.5, 11.3, 11.1, 11.45, 10.9, 11.25, 11.35, 11.55, 10.78, 11.15,
  11.65, 11.05, 11.4, 11.2, 11.3];
const ucs = [13.2, 13.15, 13.07, 12.95, 12.8, 12.2, 12.6, 11.9, 12.4, 11.6, 12.7, 12.1, 11.4, 12.5, 12.0, 11.8, 12.3,
  11.5, 12.9, 12.2, 11.7, 12.6, 11.3, 12.4, 12.0, 11.25, 12.8, 11.9, 12.3, 11.22, 12.5, 12.1];

const groupValues = [
  [...ccle, ...ccleMore], acc, [...blca, ...blcaMore], blcaN, [...brca, ...brcaMore], [...brcaN, ...brcaNMore],
  [...cesc, ...cescMore], cescN, [...coad, ...coadMore], coadN, dlbc, [...gbm, ...gbmMore], [...hnsc, ...hnscMore],
  hnscN, kich, kichN, [...kirc, ...kircMore], [...kircN, ...kircNMore], [...kirp, ...kirpMore], kirpN,
  [...laml, ...lamlMore], [...lgg, ...lggMore], [...lihc, ...lihcMore], lihcN, [...luad, ...luadMore], luadN,
  [...lusc, ...luscMore], luscN, meso, [...ov, ...ovMore], [...paad, ...paadMore], paadN, [...pcpg, ...pcpgMore], pcpgN,
  [...prad, ...pradMore], pradN, [...read, ...readMore], readN, sarc, sarcN, [...skcm, ...skcmMore], skcmN,
  [...thca, ...thcaMore], thcaN, [...ucec, ...ucecMore], ucecN, ucs,
];

const yTicks = [0, 5, 10, 15];
const xGridLines = [0, 10, 20, 30, 40];
const yGridLines = [0, 5, 10, 15];
const seriesNames = ["Tumor", "Normal"];

const FONT = "'Liberation Sans', Arial, Helvetica, sans-serif";
const GRAY = "#BEBEBE";

export default function App() {
  const ref = useRef<HTMLDivElement>(null);
  useEffect(() => {
    document.body.style.margin = "0";
    if (!ref.current) return;
    const chart = echarts.init(ref.current, null, { renderer: "svg" });

    const tumorData: number[][] = [];
    const normalData: number[][] = [];
    groupValues.forEach((vals, gi) => {
      const isNormal = categories[gi].endsWith("_N");
      vals.forEach((v, i) => {
        const off = ((((i + 1) * 0.6180339887) % 1) - 0.5) * 0.3;
        (isNormal ? normalData : tumorData).push([gi + 1 + off, v]);
      });
    });

    const catPositions = categories.map((_, i) => i + 1);
    const gridLineStyle = { color: "#D3D3D3", type: "dotted" as const, width: 1 };

    chart.setOption({
      animation: false,
      backgroundColor: "#fff",
      title: {
        text: "RSEM Expression CDK4",
        left: "center",
        top: 8,
        textStyle: { fontFamily: FONT, fontSize: 15, fontWeight: "bold", color: "#000" },
      },
      grid: {
        left: 92,
        top: 64,
        width: 1241,
        height: 504,
        show: true,
        borderColor: "#000",
        borderWidth: 1,
        backgroundColor: "transparent",
      },
      legend: {
        left: 1233,
        top: 502,
        orient: "vertical",
        itemWidth: 8,
        itemHeight: 8,
        itemGap: 5,
        padding: [12, 40, 13, 13],
        borderColor: "#000",
        borderWidth: 1,
        backgroundColor: "#fff",
        borderRadius: 0,
        selectedMode: false,
        textStyle: { fontFamily: FONT, fontSize: 18, color: "#000", lineHeight: 18, padding: [0, 0, 0, 8] },
        data: [
          { name: seriesNames[0], icon: "rect", itemStyle: { color: "#000", borderWidth: 0 } },
          { name: seriesNames[1], icon: "rect", itemStyle: { color: GRAY, borderWidth: 0 } },
        ],
      },
      xAxis: {
        type: "value",
        min: -1.144,
        max: 49.058,
        splitLine: { show: false },
        axisLine: { show: true, onZero: false, lineStyle: { color: "#000", width: 1 } },
        axisTick: { show: true, customValues: catPositions, length: 10, lineStyle: { color: "#000" } },
        axisLabel: {
          show: true,
          customValues: catPositions,
          rotate: 90,
          margin: 22,
          fontFamily: FONT,
          fontSize: 18,
          color: "#000",
          formatter: (v: number) => categories[Math.round(v) - 1] ?? "",
        },
      },
      yAxis: {
        type: "value",
        min: -0.797,
        max: 19.58,
        name: "CDK4",
        nameLocation: "middle",
        nameGap: 64,
        nameTextStyle: { fontFamily: FONT, fontSize: 18, color: "#000" },
        splitLine: { show: false },
        axisLine: { show: true, onZero: false, lineStyle: { color: "#000", width: 1 } },
        axisTick: { show: true, customValues: yTicks, length: 11, lineStyle: { color: "#000" } },
        axisLabel: {
          show: true,
          customValues: yTicks,
          margin: 21,
          fontFamily: FONT,
          fontSize: 18,
          color: "#000",
        },
      },
      series: [
        {
          name: seriesNames[0],
          type: "scatter",
          data: tumorData,
          symbol: "circle",
          symbolSize: 5,
          silent: true,
          itemStyle: { color: "rgba(0,0,0,0)", borderColor: "#000", borderWidth: 1.5 },
          emphasis: { disabled: true },
          markLine: {
            silent: true,
            symbol: "none",
            label: { show: false },
            lineStyle: gridLineStyle,
            data: [
              ...xGridLines.map((x) => ({ xAxis: x })),
              ...yGridLines.map((y) => ({ yAxis: y })),
            ],
          },
          z: 3,
        },
        {
          name: seriesNames[1],
          type: "scatter",
          data: normalData,
          symbol: "circle",
          symbolSize: 5,
          silent: true,
          itemStyle: { color: "rgba(0,0,0,0)", borderColor: GRAY, borderWidth: 1.5 },
          emphasis: { disabled: true },
          z: 3,
        },
      ],
    });

    return () => chart.dispose();
  }, []);
  return <div ref={ref} style={{ width: 1332, height: 790 }} />;
}
